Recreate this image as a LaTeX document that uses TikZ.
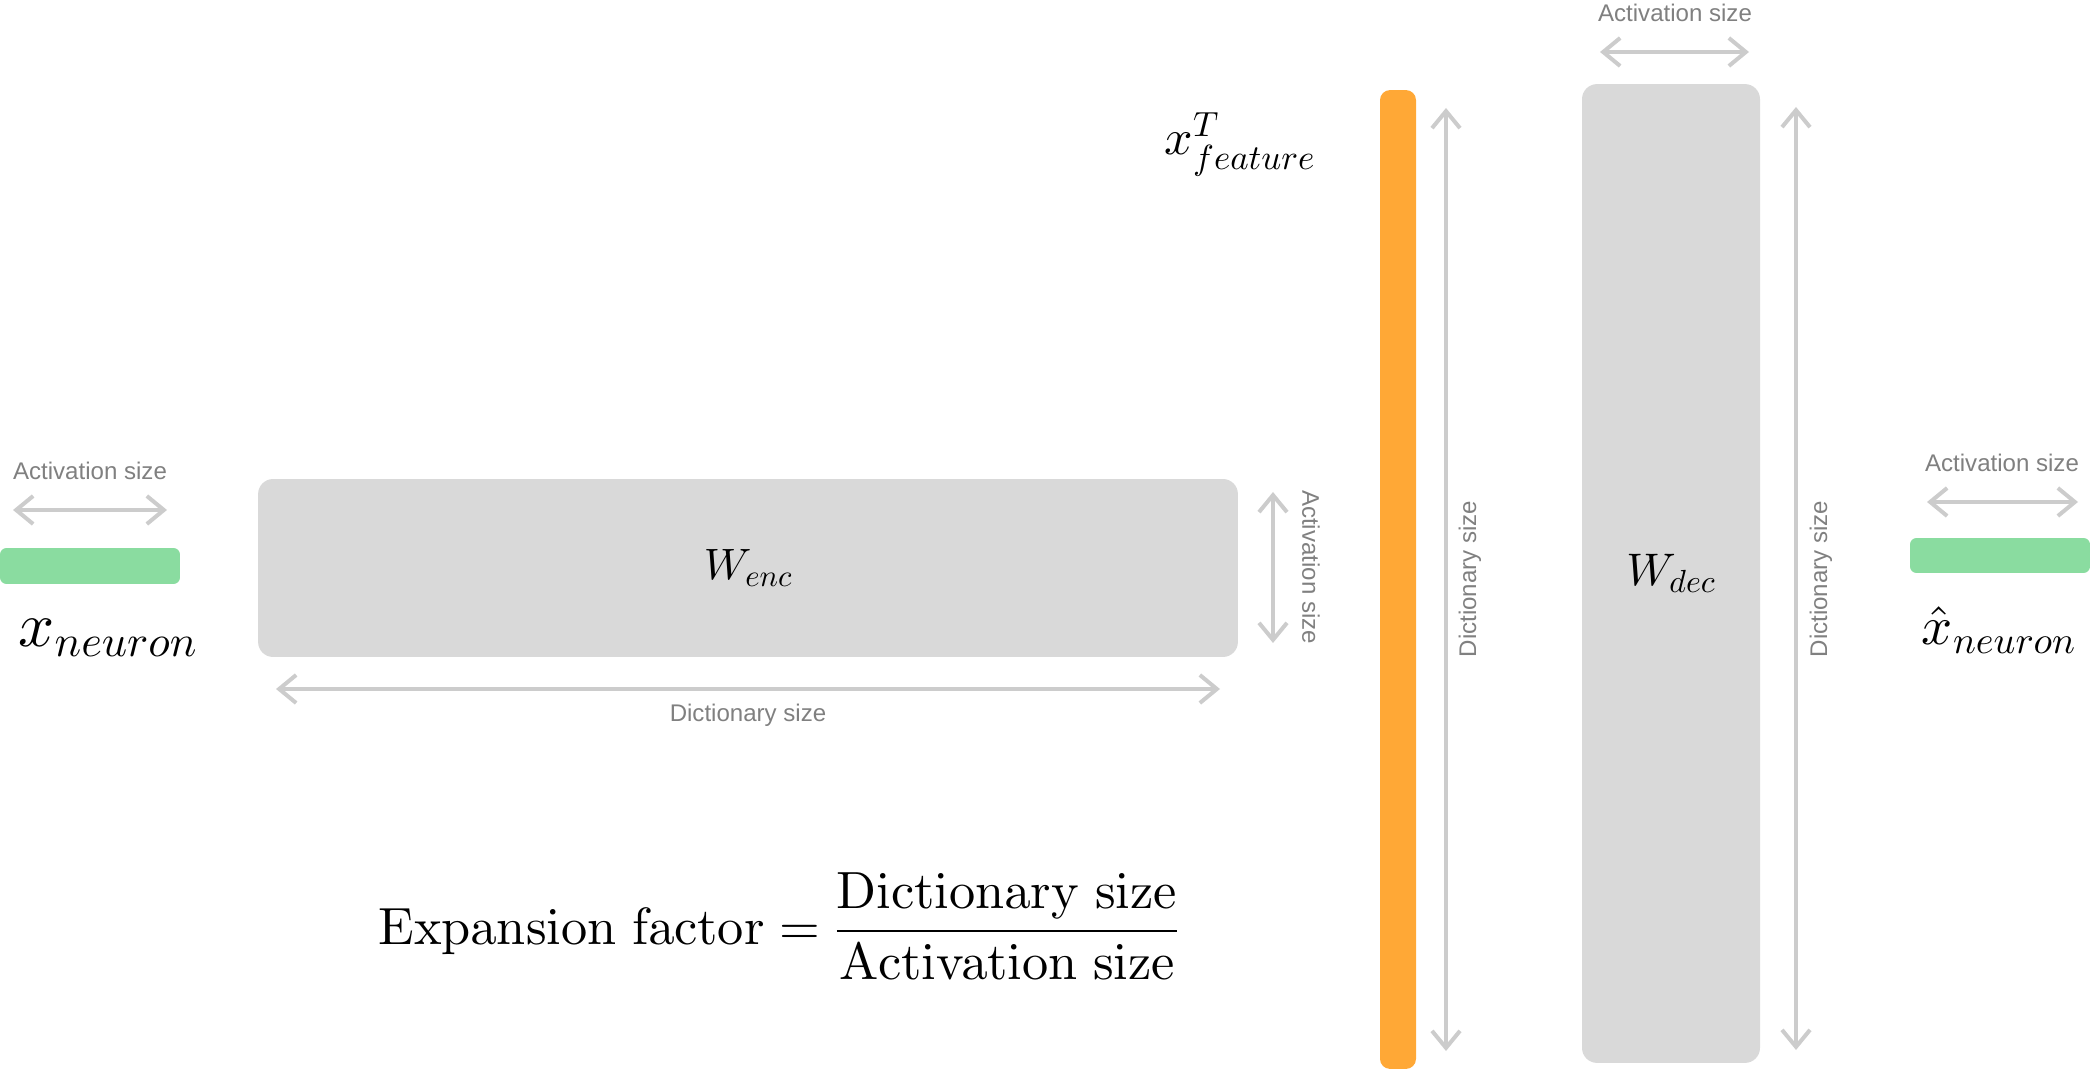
\documentclass[tikz,border=0pt]{standalone}
\usepackage{amsmath}
\usepackage[no-math]{fontspec}
\setsansfont{Liberation Sans}
\DeclareFontShape{OML}{cmm}{m}{it}{<->cmmi10}{}
\DeclareFontShape{OT1}{cmr}{m}{n}{<->cmr10}{}
\DeclareFontShape{OMS}{cmsy}{m}{n}{<->cmsy10}{}
\DeclareFontShape{OMX}{cmex}{m}{n}{<->cmex10}{}
\usepackage{tikz}
\usetikzlibrary{arrows.meta,positioning,calc}
\definecolor{matgray}{HTML}{D9D9D9}
\definecolor{actgreen}{HTML}{8ADCA0}
\definecolor{featorange}{HTML}{FFA836}
\definecolor{dimline}{HTML}{CCCCCC}
\definecolor{dimtext}{HTML}{808080}
\tikzset{
  matbox/.style={rectangle,rounded corners=0.3cm,fill=matgray,inner sep=0pt,outer sep=0pt},
  vecbar/.style={rectangle,rounded corners=0.13cm,fill=actgreen,inner sep=0pt,outer sep=0pt},
  dimarr/.style={{Straight Barb[length=0.34cm,width=0.56cm]}-{Straight Barb[length=0.34cm,width=0.56cm]},
    line width=0.08cm,color=dimline},
  dimlabel/.style={font=\sffamily\fontsize{13.7}{16}\selectfont,text=dimtext,inner sep=0pt},
  mathlabel/.style={inner sep=0pt,text=black},
}

\begin{document}
\begin{tikzpicture}[x=0.02cm,y=-0.02cm]
  \useasboundingbox (0,0) rectangle (2090,1070);
  \node[vecbar,minimum width=3.6cm,minimum height=0.72cm] (xin) at (90,566) {};
  \node[matbox,minimum width=19.6cm,minimum height=3.56cm,font=\fontsize{25}{30}\selectfont] (wenc) at (748,568) {$W_{enc}$};
  \node[vecbar,fill=featorange,rounded corners=0.2cm,minimum width=0.72cm,minimum height=19.58cm] (feat) at (1398,579.5) {};
  \node[matbox,minimum width=3.56cm,minimum height=19.58cm,font=\fontsize{26}{31}\selectfont] (wdec) at (1671,573.5) {$W_{dec}$};
  \node[vecbar,minimum width=3.6cm,minimum height=0.7cm] (xout) at (2000,555.5) {};

  \coordinate (actinL) at (13,510);
  \coordinate (actinR) at (167,510);
  \coordinate (encdictL) at (276,689);
  \coordinate (encdictR) at (1220,689);
  \coordinate (encactT) at (1273,492);
  \coordinate (encactB) at (1273,643);
  \coordinate (featdictT) at (1446,108);
  \coordinate (featdictB) at (1446,1051);
  \coordinate (decactL) at (1600,52);
  \coordinate (decactR) at (1749,52);
  \coordinate (decdictT) at (1796,107);
  \coordinate (decdictB) at (1796,1050);
  \coordinate (actoutL) at (1927,502);
  \coordinate (actoutR) at (2078,502);

  \draw[dimarr] (actinL) -- (actinR);
  \draw[dimarr] (encdictL) -- (encdictR);
  \draw[dimarr] (encactT) -- (encactB);
  \draw[dimarr] (featdictT) -- (featdictB);
  \draw[dimarr] (decactL) -- (decactR);
  \draw[dimarr] (decdictT) -- (decdictB);
  \draw[dimarr] (actoutL) -- (actoutR);

  \node[dimlabel,anchor=base] (actinlab) at (90,480) {Activation size};
  \node[dimlabel,anchor=base] (encdictlab) at (748,722) {Dictionary size};
  \node[dimlabel,rotate=-90] (encactlab) at (1311,567) {Activation size};
  \node[dimlabel,rotate=90] (featdictlab) at (1470,579) {Dictionary size};
  \node[dimlabel,anchor=base] (decactlab) at (1675,22) {Activation size};
  \node[dimlabel,rotate=90] (decdictlab) at (1821,579) {Dictionary size};
  \node[dimlabel,anchor=base] (actoutlab) at (2002,472) {Activation size};

  \node[mathlabel,anchor=base,font=\fontsize{36}{42}\selectfont] (xinlab) at (108,647) {$x_{neuron}$};
  \node[mathlabel,anchor=base,font=\fontsize{28.4}{34}\selectfont] (featlab) at (1240,155) {$x^T_{feature}$};
  \node[mathlabel,anchor=base,font=\fontsize{31}{36}\selectfont] (xoutlab) at (1999,645) {$\hat{x}_{neuron}$};
  \node[mathlabel,anchor=base,font=\fontsize{29.8}{36}\selectfont] (ratio) at (779,944)
    {$\displaystyle \mathrm{Expansion\ factor} = \frac{\mathrm{Dictionary\ size}}{\mathrm{Activation\ size}}$};
\end{tikzpicture}
\end{document}
